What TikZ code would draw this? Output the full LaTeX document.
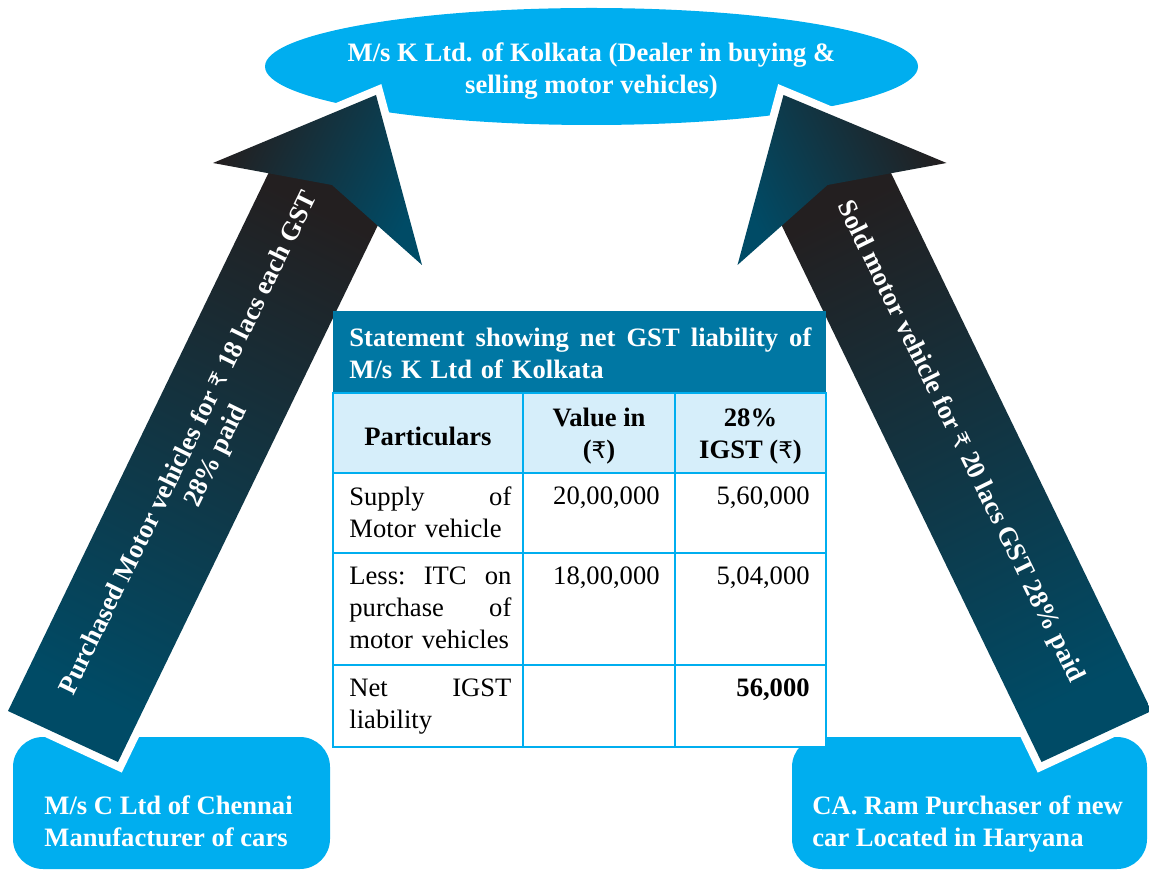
\documentclass[tikz,border=0pt]{standalone}
\usepackage{fontspec}
\setmainfont{Liberation Serif}
\newfontfamily\rupeefont{DejaVu Sans}
\usetikzlibrary{positioning,shapes.geometric}
\definecolor{cyanfill}{HTML}{00AEEF}
\definecolor{titleblue}{HTML}{0077A3}
\definecolor{headpale}{HTML}{D6EEFA}
\definecolor{arrowdark}{HTML}{231F20}
\definecolor{arrowteal}{HTML}{004B66}
\newcommand{\gstfont}{\fontsize{13.3}{16}\selectfont}
\newcommand{\rupee}{{\rupeefont\mdseries\fontsize{11.5}{16}\selectfont ₹}}
\tikzset{
  dealertext/.style={text=white, font=\gstfont\bfseries, align=center, inner sep=0pt},
  partybox/.style={rectangle, rounded corners=15pt, fill=cyanfill, minimum height=66pt, inner sep=0pt},
  partytext/.style={text=white, font=\gstfont\bfseries, align=left, anchor=north west, inner sep=0pt},
  whiteedge/.style={draw=white, fill=white, line width=8pt, line join=miter},
  arrowtext/.style={text=white, font=\fontsize{13.3}{15}\selectfont\bfseries, align=center, inner sep=0pt},
  titletext/.style={text=white, font=\gstfont\bfseries, align=left, text width=231pt, anchor=north west, inner sep=0pt},
  headcell/.style={font=\gstfont\bfseries, align=center, inner sep=0pt},
  partcell/.style={font=\gstfont, align=left, text width=81pt, anchor=north west, inner sep=0pt},
  numcell/.style={font=\gstfont, anchor=north east, inner sep=0pt},
  tablegrid/.style={draw=cyanfill, line width=1pt}
}

\begin{document}
\begin{tikzpicture}[x=0.5pt, y=-0.5pt]
  \useasboundingbox (0,0) rectangle (1149,870);

  % parties
  \fill[cyanfill] (591.5,66.5) ellipse [x radius=163.25pt, y radius=29.25pt];
  \node[dealertext] (dealer) at (591.5,71) {M/s K Ltd. of Kolkata (Dealer in buying \&\\selling motor vehicles)};
  \node[partybox, minimum width=158.5pt] (chennai) at (171.5,803) {};
  \node[partybox, minimum width=177.5pt] (haryana) at (969.5,803) {};
  \node[partytext] (chennaitext) at (44,795) {M/s C Ltd of Chennai\\Manufacturer of cars};
  \node[partytext] (haryanatext) at (812,795) {CA. Ram Purchaser of new\\car Located in Haryana};

  % purchase arrow (Chennai -> Kolkata)
  \filldraw[whiteedge] (8,711) -- (118,762) -- (394,192) -- (284,141) -- cycle;
  \filldraw[whiteedge] (376,95) -- (213,163) -- (332,185) -- (422,265) -- cycle;
  \shade[top color=arrowdark, bottom color=arrowteal, shading angle=-26.1]
    (8,711) -- (118,762) -- (394,192) -- (284,141) -- cycle;
  \shade[left color=arrowdark, right color=arrowteal, shading angle=63.9]
    (376,95) -- (213,163) -- (332,185) -- (422,265) -- cycle;
  \node[arrowtext, rotate=63.9] (buytext) at (203,450) {Purchased Motor vehicles for \rupee\ 18 lacs each GST\\28\% paid};

  % sale arrow (Haryana -> Kolkata)
  \filldraw[whiteedge] (1151.5,711) -- (1041.5,762) -- (765.5,192) -- (875.5,141) -- cycle;
  \filldraw[whiteedge] (783.5,95) -- (946.5,163) -- (827.5,185) -- (737.5,265) -- cycle;
  \shade[top color=arrowdark, bottom color=arrowteal, shading angle=26.1]
    (1151.5,711) -- (1041.5,762) -- (765.5,192) -- (875.5,141) -- cycle;
  \shade[left color=arrowteal, right color=arrowdark, shading angle=116.1]
    (783.5,95) -- (946.5,163) -- (827.5,185) -- (737.5,265) -- cycle;
  \node[arrowtext, rotate=-63.9] (selltext) at (960,442) {Sold motor vehicle for \rupee\ 20 lacs GST 28\% paid};

  % statement table
  \fill[titleblue] (333,311) rectangle (826,393);
  \fill[headpale] (333,393) rectangle (826,473);
  \fill[white] (333,473) rectangle (826,747);
  \draw[tablegrid] (333,393) rectangle (826,747);
  \foreach \x in {523,675} \draw[tablegrid] (\x,393) -- (\x,747);
  \foreach \y in {473,553,665} \draw[tablegrid] (333,\y) -- (826,\y);

  \node[titletext] (title) at (349,327) {Statement\hfill showing\hfill net\hfill GST\hfill liability\hfill of\\M/s K Ltd of Kolkata};
  \node[headcell] (hpart) at (428,436) {Particulars};
  \node[headcell] (hvalue) at (599,436) {Value in\\(\rupee)};
  \node[headcell] (hgst) at (750.5,436) {28\%\\IGST (\rupee)};

  \node[partcell] (supply) at (349,486) {Supply\hfill of\\Motor vehicle};
  \node[numcell] (supplyval) at (660,486) {20,00,000};
  \node[numcell] (supplygst) at (810,486) {5,60,000};
  \node[partcell] (itc) at (349,566) {Less:\hfill ITC\hfill on\\purchase\hfill of\\motor vehicles};
  \node[numcell] (itcval) at (660,566) {18,00,000};
  \node[numcell] (itcgst) at (810,566) {5,04,000};
  \node[partcell] (net) at (349,678) {Net\hfill IGST\\liability};
  \node[numcell, font=\gstfont\bfseries] (netgst) at (810,678) {56,000};
\end{tikzpicture}
\end{document}
